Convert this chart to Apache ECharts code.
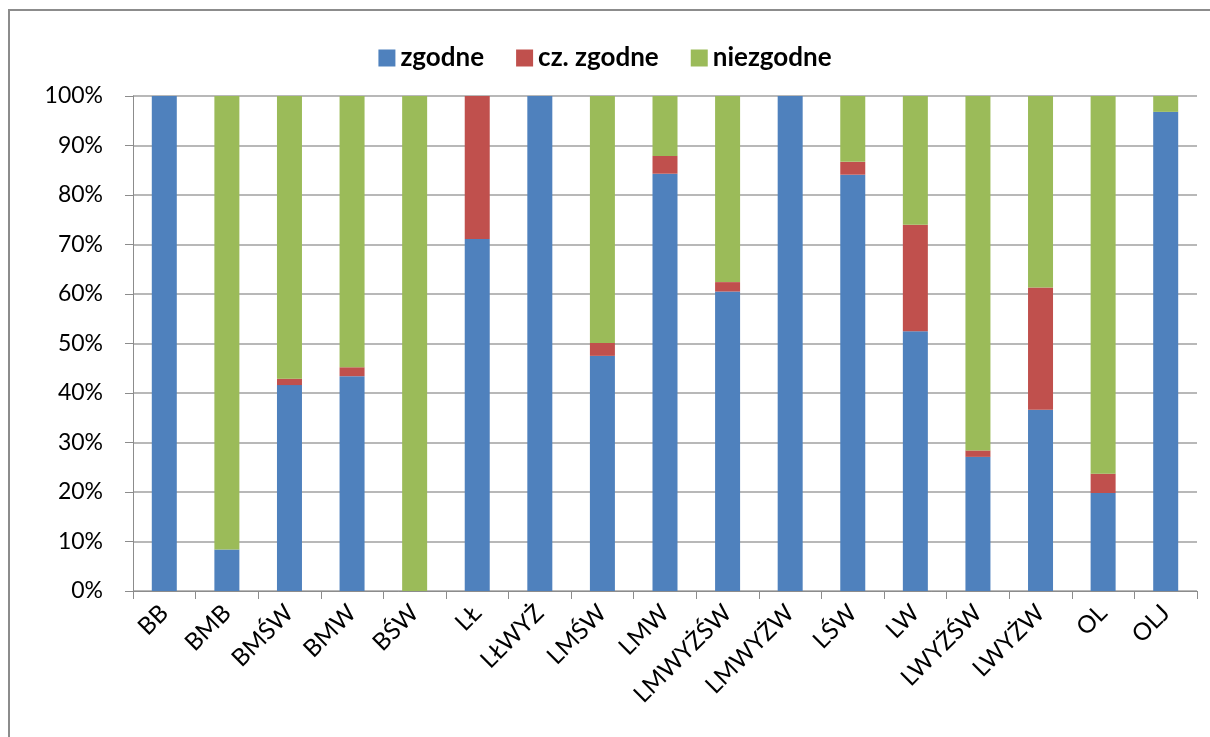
<!DOCTYPE html>
<html>
<head>
<meta charset="utf-8">
<script src="https://cdn.jsdelivr.net/npm/echarts@6/dist/echarts.min.js"></script>
<style>
html,body{margin:0;padding:0;background:#fff;}
#chart{width:1210px;height:737px;}
</style>
</head>
<body>
<div id="chart"></div>
<script>
const categories = ['BB','BMB','BMŚW','BMW','BŚW','LŁ','LŁWYŻ','LMŚW','LMW','LMWYŻŚW','LMWYŻW','LŚW','LW','LWYŻŚW','LWYŻW','OL','OLJ'];
const zgodne    = [100, 8.4, 41.6, 43.4, 0, 71.1, 100, 47.5, 84.3, 60.5, 100, 84.1, 52.5, 27.1, 36.6, 19.8, 96.8];
const czZgodne  = [0, 0, 1.3, 1.8, 0, 28.9, 0, 2.6, 3.6, 1.9, 0, 2.6, 21.5, 1.3, 24.7, 3.9, 0];
const niezgodne = [0, 91.6, 57.1, 54.8, 100, 0, 0, 49.9, 12.1, 37.6, 0, 13.3, 26.0, 71.6, 38.7, 76.3, 3.2];
const seriesNames = ['zgodne','cz. zgodne','niezgodne'];
const colors = ['#4F81BD','#C0504D','#9BBB59'];

const chart = echarts.init(document.getElementById('chart'), null, {renderer:'canvas'});
const font = 'Lato, "Open Sans", sans-serif';
function mk(name, data, color){
  return {name, type:'bar', stack:'s', data, barWidth:25,
    itemStyle:{color}, emphasis:{disabled:true}};
}
chart.setOption({
  animation:false,
  textStyle:{fontFamily:font},
  graphic:[{type:'rect', shape:{x:9,y:10,width:1300,height:800},
    style:{fill:'none', stroke:'#8c8c8c', lineWidth:2}, silent:true}],
  legend:{
    top:40, left:'center', itemWidth:17, itemHeight:17, itemGap:32,
    icon:'rect',
    textStyle:{fontFamily:font, fontSize:26, fontWeight:'bold', color:'#000'},
    data:seriesNames
  },
  grid:{left:133, right:13, top:96, bottom:146, containLabel:false},
  xAxis:{
    type:'category', data:categories,
    axisLine:{lineStyle:{color:'#8c8c8c', width:1}},
    axisTick:{show:true, length:8, lineStyle:{color:'#8c8c8c'}},
    axisLabel:{rotate:45, fontSize:24, color:'#000', fontFamily:font, margin:18, interval:0}
  },
  yAxis:{
    type:'value', min:0, max:100, interval:10,
    axisLine:{show:true, lineStyle:{color:'#8c8c8c', width:1}},
    axisTick:{show:true, length:8, lineStyle:{color:'#8c8c8c'}},
    splitLine:{lineStyle:{color:'#a0a0a0', width:1.5}},
    axisLabel:{formatter:'{value}%', fontSize:23, color:'#000', fontFamily:font, margin:30}
  },
  series:[mk(seriesNames[0], zgodne, colors[0]), mk(seriesNames[1], czZgodne, colors[1]), mk(seriesNames[2], niezgodne, colors[2])]
});
</script>
</body>
</html>
